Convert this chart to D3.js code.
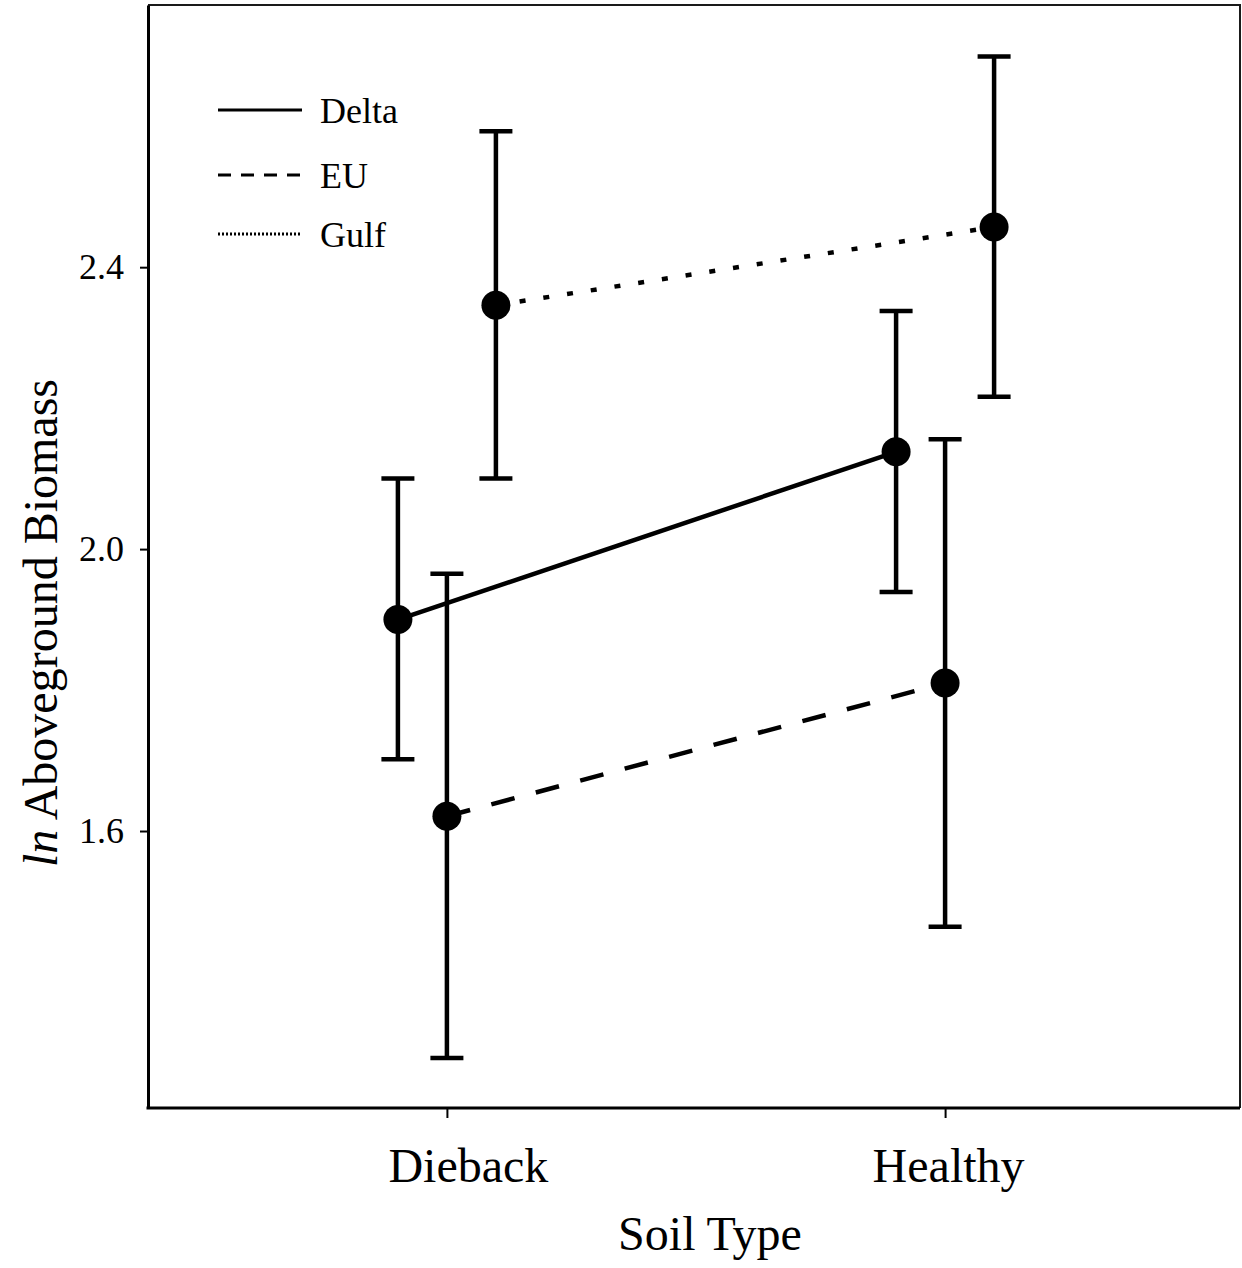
<!DOCTYPE html>
<html>
<head>
<meta charset="utf-8">
<script src="https://cdn.jsdelivr.net/npm/d3@7"></script>
<style>
  html, body { margin: 0; padding: 0; background: #fff; }
  svg { display: block; font-family: "Liberation Serif", "Times New Roman", serif; }
</style>
</head>
<body>
<svg id="chart" width="1242" height="1268"></svg>
<script>
// Soil types on the x axis and source populations drawn as separate series
const soilTypes = ["Dieback", "Healthy"];
const populations = ["Delta", "EU", "Gulf"];

// Mean ln aboveground biomass per population, in soilTypes order
const deltaMean = [1.90, 2.138];
const euMean    = [1.621, 1.81];
const gulfMean  = [2.346, 2.457];

// Error bar ends (lower / upper)
const deltaLower = [1.702, 1.939];
const deltaUpper = [2.100, 2.338];
const euLower    = [1.278, 1.464];
const euUpper    = [1.965, 2.156];
const gulfLower  = [2.100, 2.216];
const gulfUpper  = [2.593, 2.699];

const yTickValues = [1.6, 2.0, 2.4];

const series = [
  { name: "Delta", mean: deltaMean, lower: deltaLower, upper: deltaUpper, dash: null },
  { name: "EU",    mean: euMean,    lower: euLower,    upper: euUpper,    dash: "24,22" },
  { name: "Gulf",  mean: gulfMean,  lower: gulfLower,  upper: gulfUpper,  dash: "6,18" }
];

const svg = d3.select("#chart");
const frame = { left: 148, right: 1240, top: 5, bottom: 1108 };

const x = d3.scalePoint().domain(soilTypes).range([frame.left, 1244]).padding(0.6);
const dodge = d3.scalePoint().domain(populations).range([-49, 49]);
const y = d3.scaleLinear().domain([1.207, 2.772]).range([frame.bottom, frame.top]);

// Top and right frame lines
svg.append("path")
  .attr("d", `M${frame.left},${frame.top}H${frame.right}V${frame.bottom}`)
  .attr("fill", "none").attr("stroke", "#1a1a1a").attr("stroke-width", 2);

// Bottom frame line
svg.append("line")
  .attr("x1", frame.left - 1.5).attr("x2", frame.right)
  .attr("y1", frame.bottom).attr("y2", frame.bottom)
  .attr("stroke", "#000").attr("stroke-width", 3);

// Y axis
const yAxis = svg.append("g")
  .attr("transform", `translate(${frame.left},0)`)
  .call(d3.axisLeft(y).tickValues(yTickValues).tickFormat(d3.format(".1f"))
        .tickSize(8).tickPadding(16).tickSizeOuter(0));
yAxis.select(".domain").attr("stroke", "#000").attr("stroke-width", 3);
yAxis.selectAll(".tick line").attr("stroke", "#000").attr("stroke-width", 2);
yAxis.selectAll(".tick text").attr("font-size", 36).attr("fill", "#000")
  .attr("font-family", "Liberation Serif");

// X axis
const xAxis = svg.append("g")
  .attr("transform", `translate(0,${frame.bottom})`)
  .call(d3.axisBottom(x).tickSize(10).tickPadding(30).tickSizeOuter(0));
xAxis.select(".domain").remove();
xAxis.selectAll(".tick line").attr("stroke", "#000").attr("stroke-width", 2);
xAxis.selectAll(".tick text").attr("font-size", 48).attr("fill", "#000")
  .attr("font-family", "Liberation Serif")
  .attr("dx", d => d === "Dieback" ? 21 : 3);

// Axis titles
svg.append("text")
  .attr("x", (frame.left + frame.right) / 2 + 16)
  .attr("y", 1250)
  .attr("text-anchor", "middle")
  .attr("font-size", 48)
  .text("Soil Type");

const yTitle = svg.append("text")
  .attr("transform", "translate(57,623) rotate(-90)")
  .attr("text-anchor", "middle")
  .attr("font-size", 48);
yTitle.append("tspan").attr("font-style", "italic").text("ln");
yTitle.append("tspan").text(" Aboveground Biomass");

const px = (s, i) => x(soilTypes[i]) + dodge(s.name);

// Connecting lines
const line = d3.line().x(d => d[0]).y(d => d[1]);
svg.append("g").selectAll("path")
  .data(series)
  .join("path")
  .attr("d", s => line(s.mean.map((m, i) => [px(s, i), y(m)])))
  .attr("fill", "none")
  .attr("stroke", "#000")
  .attr("stroke-width", 4.5)
  .attr("stroke-dasharray", s => s.dash);

// Error bars
const bars = svg.append("g").attr("stroke", "#000").attr("stroke-width", 4.5).attr("fill", "none");
series.forEach(s => {
  soilTypes.forEach((t, i) => {
    const cx = px(s, i);
    const lo = y(s.lower[i]), hi = y(s.upper[i]);
    bars.append("path")
      .attr("d", `M${cx},${hi}V${lo}M${cx - 16.5},${hi}H${cx + 16.5}M${cx - 16.5},${lo}H${cx + 16.5}`);
  });
});

// Mean markers
const pts = [];
series.forEach(s => s.mean.forEach((m, i) => pts.push({ cx: px(s, i), cy: y(m) })));
svg.append("g").selectAll("circle")
  .data(pts)
  .join("circle")
  .attr("cx", d => d.cx)
  .attr("cy", d => d.cy)
  .attr("r", 14.5)
  .attr("fill", "#000");

// Legend
const legend = svg.append("g");
const legendRows = [
  { name: "Delta", dash: null,    width: 3,   ly: 110 },
  { name: "EU",    dash: "13,10", width: 3,   ly: 175 },
  { name: "Gulf",  dash: "2,2",   width: 3,   ly: 234 }
];
legendRows.forEach(r => {
  legend.append("line")
    .attr("x1", 218).attr("x2", 302)
    .attr("y1", r.ly).attr("y2", r.ly)
    .attr("stroke", "#000")
    .attr("stroke-width", r.width)
    .attr("stroke-dasharray", r.dash);
  legend.append("text")
    .attr("x", 320).attr("y", r.ly + 13)
    .attr("font-size", 36)
    .text(r.name);
});
</script>
</body>
</html>
